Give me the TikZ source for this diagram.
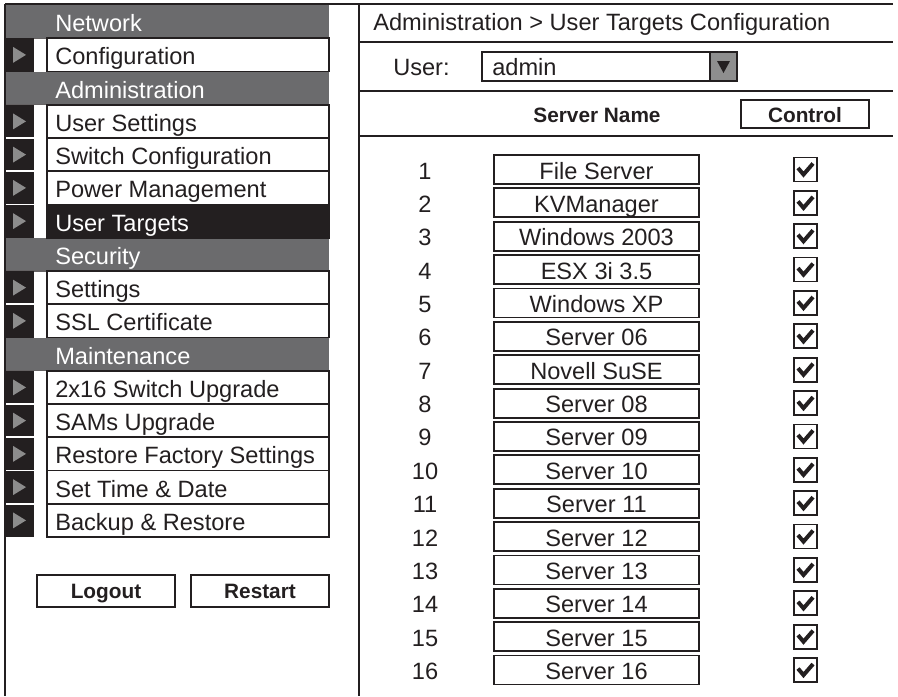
\documentclass[tikz,border=0pt]{standalone}
\usepackage{fontspec}
\setmainfont{Liberation Sans}
\definecolor{ink}{HTML}{231F20}
\definecolor{headgray}{HTML}{6B6B6D}
\definecolor{trigray}{HTML}{8C8C8C}
\definecolor{ddgray}{HTML}{8E8E8E}
\newcommand\regfont{\fontsize{17.7}{20}\selectfont}
\newcommand\bldfont{\fontsize{15.6}{18}\selectfont\bfseries}
\tikzset{
  frameline/.style={line width=1.5pt, draw=ink},
  boxline/.style={line width=1.4pt, draw=ink},
  cbline/.style={line width=1.3pt, draw=ink},
  tickline/.style={line width=3pt, draw=ink, line join=miter},
  mtext/.style={anchor=base west, inner sep=0pt, font=\regfont, text=ink},
  ctext/.style={anchor=base, inner sep=0pt, font=\regfont, text=ink},
  btext/.style={anchor=base, inner sep=0pt, font=\bldfont, text=ink},
}
\begin{document}
\begin{tikzpicture}[x=0.75pt,y=-0.75pt]
\useasboundingbox (0,0) rectangle (898,696);
% ---------- left menu ----------
\foreach \k/\lab in {0/Network,2/Administration,7/Security,10/Maintenance}{
  \fill[headgray] (5,{5+\k*33.25}) rectangle (329,{5+(\k+1)*33.25});
  \draw[line width=0.8pt, draw=ink!70] (5,{5+(\k+1)*33.25}) -- (329,{5+(\k+1)*33.25});
  \node[mtext, text=white] (h\k) at (55,{5+(\k+0.5)*33.25+10}) {\lab};
}
\foreach \k/\lab/\bg/\fg in {1/Configuration/white/ink,3/User Settings/white/ink,4/Switch Configuration/white/ink,5/Power Management/white/ink,6/User Targets/ink/white,8/Settings/white/ink,9/SSL Certificate/white/ink,11/2x16 Switch Upgrade/white/ink,12/SAMs Upgrade/white/ink,13/Restore Factory Settings/white/ink,14/Set Time \& Date/white/ink,15/Backup \& Restore/white/ink}{
  \fill[ink] (5,{5+\k*33.25}) rectangle (34,{5+(\k+1)*33.25});
  \fill[trigray] (13,{5+(\k+0.5)*33.25-8}) -- (26,{5+(\k+0.5)*33.25}) -- (13,{5+(\k+0.5)*33.25+8}) -- cycle;
  \draw[boxline, fill=\bg] (47,{5+\k*33.25}) rectangle (329,{5+(\k+1)*33.25});
  \node[mtext, text=\fg] (m\k) at (55,{5+(\k+0.5)*33.25+10}) {\lab};
}
% white separators between consecutive arrow blocks
\foreach \k in {4,5,6,9,12,13,14,15}{
  \draw[white, line width=1.2pt] (5,{5+\k*33.25}) -- (34,{5+\k*33.25});
}
% buttons
\draw[boxline] (37,575) rectangle (175,607);
\node[btext] (logout) at (106,598) {Logout};
\draw[boxline] (191,575) rectangle (329,607);
\node[btext] (restart) at (260,598) {Restart};
% ---------- frame ----------
\draw[frameline] (5,4) -- (893,4);
\draw[frameline] (5,4) -- (5,696);
\draw[frameline] (359,4) -- (359,696);
\draw[frameline] (359,41.5) -- (893,41.5);
\draw[frameline] (359,91) -- (893,91);
\draw[frameline] (359,136) -- (893,136);
% ---------- right panel ----------
\node[mtext] (title) at (373,31) {Administration > User Targets Configuration};
\node[mtext] (userlbl) at (393,75) {User:};
\draw[boxline] (482,52) rectangle (737,81);
\node[mtext] (uservalue) at (492,75) {admin};
\draw[boxline, fill=ddgray] (710,52) rectangle (737,81);
\fill[ink] (717,61) -- (730,61) -- (723.5,73) -- cycle;
\node[btext] (colname) at (597,122) {Server Name};
\draw[boxline] (741,100) rectangle (869,128);
\node[btext] (colctrl) at (805,122) {Control};
\foreach \i/\nm in {1/File Server,2/KVManager,3/Windows 2003,4/ESX 3i 3.5,5/Windows XP,6/Server 06,7/Novell SuSE,8/Server 08,9/Server 09,10/Server 10,11/Server 11,12/Server 12,13/Server 13,14/Server 14,15/Server 15,16/Server 16}{
  \pgfmathsetmacro\cy{169.5+(\i-1)*33.37}
  \node[ctext] (n\i) at (425,{\cy+9.5}) {\i};
  \draw[boxline] (494,{\cy-14.5}) rectangle (699,{\cy+14.5});
  \node[ctext] (s\i) at (596.5,{\cy+9.5}) {\nm};
  \draw[cbline] (794,{\cy-12}) rectangle (817,{\cy+12});
  \draw[tickline] (798,{\cy-1.5}) -- (803.5,{\cy+5}) -- (813,{\cy-6}) -- (813,{\cy-6});
}
\end{tikzpicture}
\end{document}
